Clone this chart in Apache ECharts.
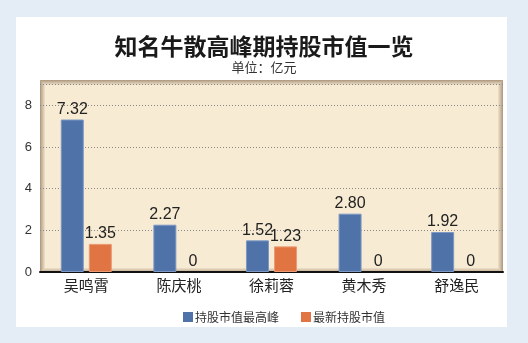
<!DOCTYPE html>
<html>
<head>
<meta charset="utf-8">
<script src="https://cdn.jsdelivr.net/npm/echarts@6/dist/echarts.min.js"></script>
<style>
  html, body { margin: 0; padding: 0; background: #e4ecf5; }
  #chart { width: 528px; height: 343px; }
</style>
</head>
<body>
<div id="chart"></div>
<script>
// 知名牛散持股市值（单位：亿元）
const categories = ['吴鸣霄', '陈庆桃', '徐莉蓉', '黄木秀', '舒逸民'];
const peakValues = [7.32, 2.27, 1.52, 2.80, 1.92];
const latestValues = [1.35, 0, 1.23, 0, 0];
const seriesNames = ['持股市值最高峰', '最新持股市值'];
const yTicks = [0, 2, 4, 6, 8];

const chart = echarts.init(document.getElementById('chart'), null, { renderer: 'canvas' });

const numFont = 'Liberation Sans, Arial, sans-serif';
const cjkFont = '"Noto Sans CJK SC", sans-serif';

// inner shading around the plot panel
const frame = { x: 40, y: 80, w: 463, h: 193 };
const shade = [];
for (let i = 0; i < 5; i++) {
  shade.push({
    type: 'rect', silent: true, z: -5,
    shape: { x: frame.x + i + 0.5, y: frame.y + i + 0.5, width: frame.w - 2 * i - 1, height: frame.h - 2 * i - 1 },
    style: { fill: null, stroke: 'rgba(120,95,70,' + (0.55 - i * 0.11).toFixed(2) + ')', lineWidth: 1 }
  });
}

// zero-height bars get no outline so nothing shows above the axis
function barItems(values, border) {
  return values.map(v => ({ value: v, itemStyle: { borderWidth: v === 0 ? 0 : 1, borderColor: border } }));
}

chart.setOption({
  backgroundColor: '#e4ecf5',
  animation: false,
  graphic: [
    { type: 'rect', silent: true, z: -10, shape: { x: 16, y: 17, width: 491, height: 310 }, style: { fill: '#ffffff' } },
    { type: 'rect', silent: true, z: -9, shape: { x: frame.x, y: frame.y, width: frame.w, height: frame.h }, style: { fill: '#f8ebd3' } },
    ...shade
  ],
  title: {
    text: '知名牛散高峰期持股市值一览',
    subtext: '单位：亿元',
    left: 'center',
    top: 30,
    itemGap: 3,
    textStyle: { fontFamily: cjkFont, fontSize: 23, fontWeight: 'bold', color: '#1a1a1a' },
    subtextStyle: { fontFamily: cjkFont, fontSize: 13, color: '#333' }
  },
  legend: {
    data: seriesNames,
    top: 306,
    left: 178,
    itemWidth: 10,
    itemHeight: 10,
    itemGap: 22,
    icon: 'rect',
    textStyle: { fontFamily: cjkFont, fontSize: 12, color: '#333', padding: [0, 0, 0, -3] }
  },
  grid: { left: 40, right: 25, top: 84.5, bottom: 71 },
  xAxis: {
    type: 'category',
    data: categories,
    axisLine: { show: true, lineStyle: { color: '#111', width: 2 } },
    axisTick: { show: false },
    axisLabel: { fontFamily: cjkFont, fontSize: 15, color: '#222', margin: 6 }
  },
  yAxis: {
    type: 'value',
    min: 0,
    max: 9,
    interval: 2,
    axisLine: { show: false },
    axisTick: { show: false },
    axisLabel: {
      fontFamily: numFont, fontSize: 13, color: '#333', margin: 8,
      showMaxLabel: false,
      formatter: v => (yTicks.indexOf(v) >= 0 ? String(v) : '')
    },
    splitLine: { lineStyle: { color: '#888', type: [1, 2], width: 1 } }
  },
  series: [
    {
      name: seriesNames[0],
      type: 'bar',
      data: barItems(peakValues, '#7d98c4'),
      barWidth: 23,
      barGap: '22%',
      itemStyle: { color: '#4f72a9' },
      label: {
        show: true, position: 'top', distance: 2,
        fontFamily: numFont, fontSize: 16, color: '#222',
        formatter: p => p.value.toFixed(2)
      }
    },
    {
      name: seriesNames[1],
      type: 'bar',
      data: barItems(latestValues, '#eb9a74'),
      barWidth: 23,
      itemStyle: { color: '#e07543' },
      label: {
        show: true, position: 'top', distance: 2,
        fontFamily: numFont, fontSize: 16, color: '#222',
        formatter: p => (p.value === 0 ? '0' : p.value.toFixed(2))
      }
    }
  ]
});
</script>
</body>
</html>
